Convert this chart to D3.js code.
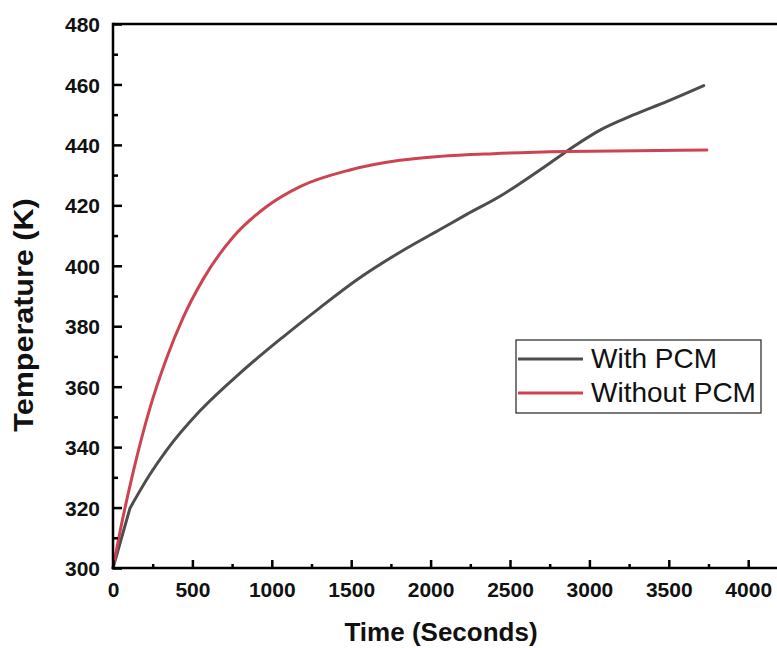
<!DOCTYPE html>
<html>
<head>
<meta charset="utf-8">
<title>Temperature vs Time</title>
<script src="https://cdn.jsdelivr.net/npm/d3@7"></script>
<style>
  body { margin: 0; background: #fff; }
  svg { display: block; font-family: "Liberation Sans", Arial, sans-serif; }
  .tick-label { font-size: 21px; font-weight: bold; fill: #111; }
  .axis-title { font-size: 26px; font-weight: bold; fill: #111; }
  .legend-text { font-size: 28px; fill: #111; }
</style>
</head>
<body>
<div id="chart"></div>
<script>
// data
const timeWith = [0, 107, 233, 338, 548, 800, 1072, 1300, 1534, 1807, 2059, 2227, 2437, 2542, 2752, 2899, 3067, 3277, 3486, 3720];
const tempWith = [300, 319.8, 331, 339, 352, 364.5, 376.5, 386, 395.3, 404.5, 412, 417, 423, 426.5, 434, 439.4, 444.9, 449.9, 454.3, 459.6];
const kinkWith = 1;   // sharp corner after the first point

const timeWithout = [0, 44, 128, 233, 338, 443, 567, 758, 968, 1178, 1492, 1807, 2059, 2395, 2857, 3300, 3740];
const tempWithout = [300, 312, 332, 353, 369.5, 383, 395.5, 409.6, 419.6, 426.2, 431.7, 434.9, 436.2, 437.1, 437.8, 438.1, 438.3];
const kinkWithout = 0;

const seriesNames = ["With PCM", "Without PCM"];
const seriesColors = ["#4d4d4d", "#cc4452"];

const xTicks = [0, 500, 1000, 1500, 2000, 2500, 3000, 3500, 4000];
const yTicks = [300, 320, 340, 360, 380, 400, 420, 440, 460, 480];

const w = 777, h = 648;
const padLeft = 113, padTop = 24, axisY = 568;
const xMax = 4200;

const svg = d3.select("#chart").append("svg")
  .attr("width", w).attr("height", h);

const x = d3.scaleLinear().domain([0, xMax]).range([padLeft, padLeft + xMax * 79.4 / 500]);
const y = d3.scaleLinear().domain([300, 480]).range([axisY, padTop]);

// lines
const series = [
  { name: seriesNames[0], color: seriesColors[0], kink: kinkWith, pts: timeWith.map((t, i) => [t, tempWith[i]]) },
  { name: seriesNames[1], color: seriesColors[1], kink: kinkWithout, pts: timeWithout.map((t, i) => [t, tempWithout[i]]) }
];

const lineStraight = d3.line().x(d => x(d[0])).y(d => y(d[1]));
const lineSmooth = d3.line().x(d => x(d[0])).y(d => y(d[1])).curve(d3.curveMonotoneX);

// straight part up to the corner, smooth part after it
const pathOf = d => {
  let p = "";
  if (d.kink > 0) p += lineStraight(d.pts.slice(0, d.kink + 1));
  p += lineSmooth(d.pts.slice(d.kink));
  return p;
};

svg.selectAll("path.series")
  .data(series)
  .enter()
  .append("path")
  .attr("class", "series")
  .attr("d", pathOf)
  .attr("fill", "none")
  .attr("stroke", d => d.color)
  .attr("stroke-width", 3)
  .attr("stroke-linejoin", "round")
  .attr("stroke-linecap", "round");

// x axis (ticks pointing inward)
const xAxis = d3.axisTop(x).tickValues(xTicks).tickSize(8).tickFormat(d3.format("d"));
const gx = svg.append("g")
  .attr("transform", "translate(0," + axisY + ")")
  .call(xAxis);
gx.selectAll(".tick text")
  .attr("class", "tick-label")
  .attr("y", 29)
  .attr("dy", 0);

const xMinor = d3.axisTop(x).tickValues(d3.range(250, xMax, 500)).tickSize(4).tickFormat("");
svg.append("g").attr("transform", "translate(0," + axisY + ")").call(xMinor);

// y axis (ticks pointing inward)
const yAxis = d3.axisRight(y).tickValues(yTicks).tickSize(9).tickFormat(d3.format("d"));
const gy = svg.append("g")
  .attr("transform", "translate(" + padLeft + ",0)")
  .call(yAxis);
gy.selectAll(".tick text")
  .attr("class", "tick-label")
  .attr("x", -13)
  .attr("dy", "0.36em")
  .attr("text-anchor", "end");

const yMinor = d3.axisRight(y).tickValues(d3.range(310, 480, 20)).tickSize(5).tickFormat("");
svg.append("g").attr("transform", "translate(" + padLeft + ",0)").call(yMinor);

svg.selectAll(".domain").remove();
svg.selectAll(".tick line").attr("stroke", "#000").attr("stroke-width", 2.5);
svg.selectAll(".tick text").attr("fill", "#111").style("font-size", "21px").style("font-weight", "bold");

// frame lines
svg.append("line")
  .attr("x1", padLeft).attr("x2", w + 5)
  .attr("y1", axisY).attr("y2", axisY)
  .attr("stroke", "#000").attr("stroke-width", 2.5);
svg.append("line")
  .attr("x1", padLeft).attr("x2", w + 5)
  .attr("y1", padTop).attr("y2", padTop)
  .attr("stroke", "#000").attr("stroke-width", 2.5);
svg.append("line")
  .attr("x1", padLeft).attr("x2", padLeft)
  .attr("y1", padTop - 1.25).attr("y2", axisY + 1.25)
  .attr("stroke", "#000").attr("stroke-width", 2.5);

// axis titles
svg.append("text")
  .attr("class", "axis-title")
  .attr("x", 441)
  .attr("y", 641)
  .attr("text-anchor", "middle")
  .text("Time (Seconds)");

svg.append("text")
  .attr("class", "axis-title")
  .attr("transform", "translate(33,315) rotate(-90) scale(1.13,1)")
  .attr("text-anchor", "middle")
  .style("font-size", "27px")
  .text("Temperature (K)");

// legend
const legend = svg.append("g");
legend.append("rect")
  .attr("x", 516).attr("y", 340)
  .attr("width", 245).attr("height", 73)
  .attr("fill", "#fff")
  .attr("stroke", "#222")
  .attr("stroke-width", 1.2);

const rows = legend.selectAll("g.row")
  .data(series)
  .enter()
  .append("g")
  .attr("transform", (d, i) => "translate(0," + (359 + i * 34) + ")");

rows.append("line")
  .attr("x1", 518).attr("x2", 583)
  .attr("y1", 0).attr("y2", 0)
  .attr("stroke", d => d.color)
  .attr("stroke-width", 3);

rows.append("text")
  .attr("class", "legend-text")
  .attr("x", 591)
  .attr("y", 9)
  .text(d => d.name);
</script>
</body>
</html>
